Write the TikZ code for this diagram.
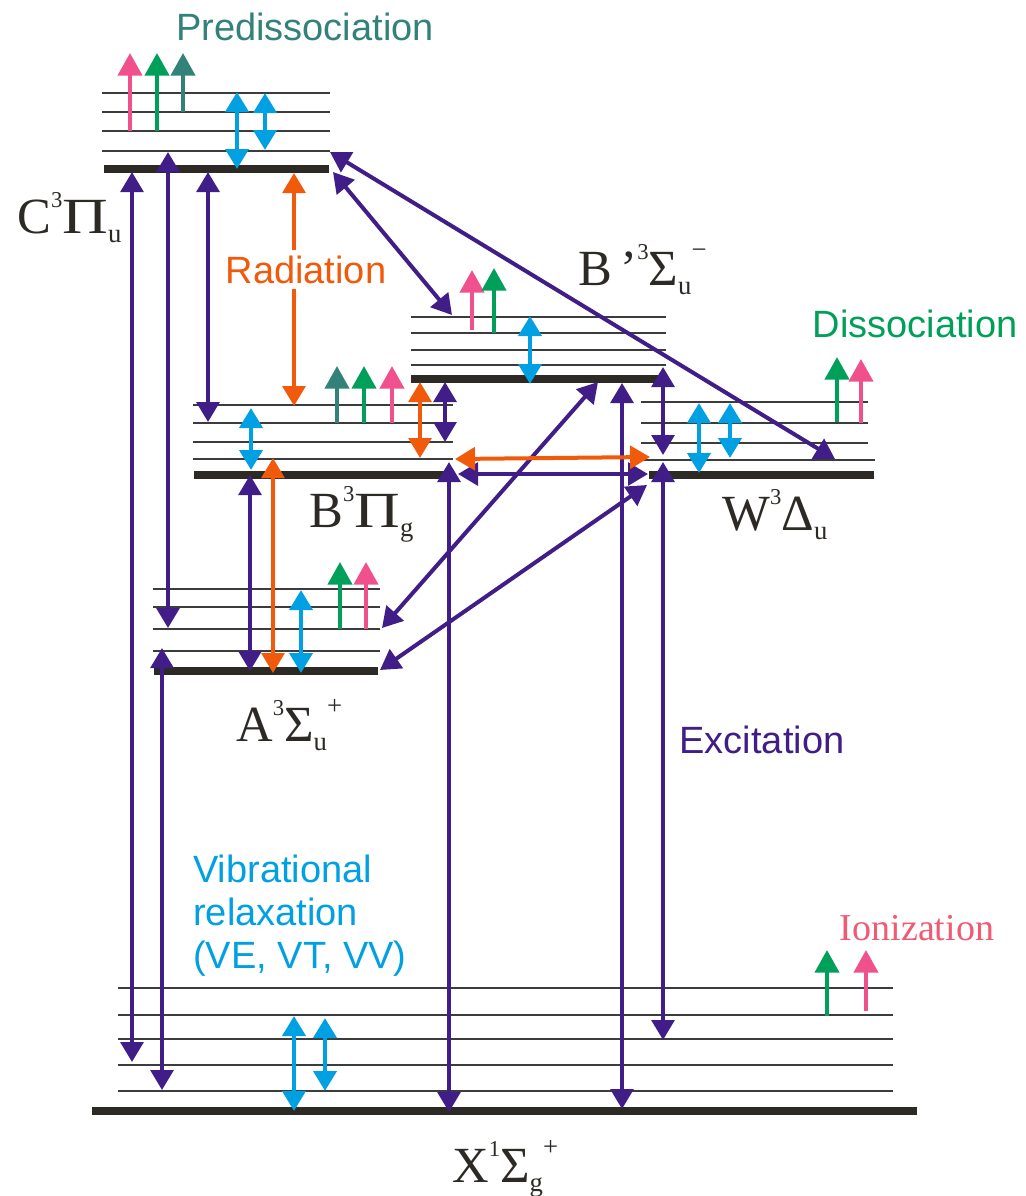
\documentclass[tikz,border=0pt]{standalone}
\usepackage{fontspec}
\usepackage{graphicx}
\setmainfont{Liberation Sans}
\newfontfamily\serifst{Liberation Serif}
\usetikzlibrary{arrows.meta}
\definecolor{pur}{RGB}{65,30,135}
\definecolor{blu}{RGB}{0,160,227}
\definecolor{ora}{RGB}{240,90,10}
\definecolor{grn}{RGB}{0,160,90}
\definecolor{pnk}{RGB}{240,80,140}
\definecolor{tea}{RGB}{51,130,122}
\definecolor{lvlc}{RGB}{45,42,37}
\definecolor{thinc}{RGB}{60,60,60}
\definecolor{ionc}{RGB}{240,90,115}
\newcommand{\supf}{\fontsize{17}{17}\selectfont}
\newcommand{\subf}{\fontsize{20}{20}\selectfont}
\newcommand{\widepi}{\scalebox{1.25}[1]{Π}}
\newcommand{\stlab}[4]{{\serifst\fontsize{38}{38}\selectfont #1\raisebox{19pt}{\supf #2}#3\raisebox{-6.75pt}{\subf #4}}}
\newcommand{\stlabx}[5]{{\serifst\fontsize{38}{38}\selectfont #1\raisebox{19pt}{\supf #2}#3\raisebox{-6.75pt}{\subf #4}\raisebox{20pt}{\subf #5}}}
\begin{document}
\begin{tikzpicture}[x=0.75pt,y=-0.75pt,
  thinlvl/.style={draw=thinc,line width=1.2pt},
  thicklvl/.style={draw=lvlc,line width=6pt},
  parrow/.style={draw=pur,line width=3pt,{Triangle[width=17pt,length=15pt]}-{Triangle[width=17pt,length=15pt]}},
  barrow/.style={draw=blu,line width=3.6pt,{Triangle[width=17pt,length=15pt]}-{Triangle[width=17pt,length=15pt]}},
  oarrow/.style={draw=ora,line width=3pt,{Triangle[width=17pt,length=15pt]}-{Triangle[width=17pt,length=15pt]}},
  uparrow/.style={line width=3.2pt,-{Triangle[width=18pt,length=17pt]}},
  lbl/.style={font=\fontsize{28.5}{32}\selectfont,inner sep=0pt},
  stname/.style={inner sep=0pt,text=lvlc}]
\useasboundingbox (0,0) rectangle (1025,1196);
\fill[white] (0,0) rectangle (1025,1196);

% ---- levels ----
% C
\foreach \y in {93,112,131,151} \draw[thinlvl] (102,\y) -- (330,\y);
\draw[thicklvl] (104,169) -- (329,169);
% B'
\foreach \y in {317,333,350,365} \draw[thinlvl] (411,\y) -- (666,\y);
\draw[thicklvl] (411,379) -- (663,379);
% B
\foreach \y in {405,423,442,459} \draw[thinlvl] (193,\y) -- (453,\y);
\draw[thicklvl] (194,475) -- (453,475);
% W
\foreach \y in {402,423,443} \draw[thinlvl] (641,\y) -- (868,\y);
\draw[thinlvl] (641,460) -- (875,460);
\draw[thicklvl] (649,474.5) -- (874,474.5);
% A
\foreach \y in {589,607,629,651} \draw[thinlvl] (153,\y) -- (380,\y);
\draw[thicklvl] (154,671) -- (378,671);
% X
\foreach \y in {988,1015,1039,1065,1091} \draw[thinlvl] (118,\y) -- (893,\y);
\draw[thicklvl] (92,1111) -- (917,1111);

% ---- purple transitions ----
\draw[parrow] (132,172) -- (132,1062);
\draw[parrow] (168,152) -- (168,628);
\draw[parrow] (208,172) -- (208,422);
\draw[parrow] (162,648) -- (162,1090);
\draw[parrow] (250,475) -- (250,671);
\draw[parrow] (445,382) -- (445,442);
\draw[parrow] (449,462) -- (449,1112);
\draw[parrow] (622,383) -- (622,1109);
\draw[parrow] (663,367) -- (663,455);
\draw[parrow] (663,462) -- (663,1040);
\draw[parrow] (333,172) -- (452,315);
\draw[parrow] (330,152) -- (835,459);
\draw[parrow] (382,628) -- (598,382);
\draw[parrow] (380,670) -- (647,485);
\draw[parrow] (458,474) -- (648,474);

% ---- orange transitions ----
\draw[oarrow] (294,173) -- (294,406);
\draw[oarrow] (273,458) -- (273,673);
\draw[oarrow] (420,382) -- (420,458);
\draw[oarrow] (455,459) -- (650,457);

% ---- blue vibrational ----
\draw[barrow] (237,92) -- (237,169);
\draw[barrow] (265,93) -- (265,150);
\draw[barrow] (530,316) -- (530,384);
\draw[barrow] (251,408) -- (251,470);
\draw[barrow] (301,590) -- (301,673);
\draw[barrow] (699,403) -- (699,473);
\draw[barrow] (730,403) -- (730,458);
\draw[barrow] (294,1016) -- (294,1111);
\draw[barrow] (325,1018) -- (325,1091);

% ---- upward (dissociation / ionization) ----
\draw[uparrow,pnk] (130,131) -- (130,53);
\draw[uparrow,grn] (157,131) -- (157,53);
\draw[uparrow,tea] (183,112) -- (183,53);
\draw[uparrow,pnk] (472,330) -- (472,270);
\draw[uparrow,grn] (494,333) -- (494,268);
\draw[uparrow,tea] (337,423) -- (337,366);
\draw[uparrow,grn] (364,423) -- (364,366);
\draw[uparrow,pnk] (392,423) -- (392,366);
\draw[uparrow,grn] (837,422) -- (837,357);
\draw[uparrow,pnk] (861,423) -- (861,359);
\draw[uparrow,grn] (340,629) -- (340,562);
\draw[uparrow,pnk] (366,629) -- (366,562);
\draw[uparrow,grn] (827,1016) -- (827,950);
\draw[uparrow,pnk] (866,1011) -- (866,950);

% ---- process labels ----
\node[lbl,text=tea,anchor=base] (predis) at (305,40) {Predissociation};
\node[lbl,text=ora,anchor=base,fill=white,inner ysep=4pt,inner xsep=1pt] (rad) at (306,283) {Radiation};
\node[lbl,text=grn,anchor=base] (dis) at (915,337) {Dissociation};
\node[lbl,text=pur,anchor=base] (exc) at (762,753) {Excitation};
\node[lbl,text=blu,anchor=base west] (vib1) at (193,882) {Vibrational};
\node[lbl,text=blu,anchor=base west] (vib2) at (193,925) {relaxation};
\node[lbl,text=blu,anchor=base west] (vib3) at (193,968) {(VE, VT, VV)};
\node[inner sep=0pt,text=ionc,anchor=base,font=\serifst\fontsize{28.5}{32}\selectfont] (ion) at (917,940) {Ionization};

% ---- state labels ----
\node[stname,anchor=base west] (lC) at (17,233) {\stlab{C}{3}{\widepi}{u}};
\node[stname,anchor=base west] (lBp) at (578,285) {\stlabx{B\,’}{3}{Σ}{u}{−}};
\node[stname,anchor=base west] (lB) at (309,527) {\stlab{B}{3}{\widepi}{g}};
\node[stname,anchor=base west] (lW) at (722,530) {\stlab{W}{3}{Δ}{u}};
\node[stname,anchor=base west] (lA) at (236,741) {\stlabx{A}{3}{Σ}{u}{+}};
\node[stname,anchor=base west] (lX) at (452,1182) {\stlabx{X}{1}{Σ}{g}{+}};
\end{tikzpicture}
\end{document}
